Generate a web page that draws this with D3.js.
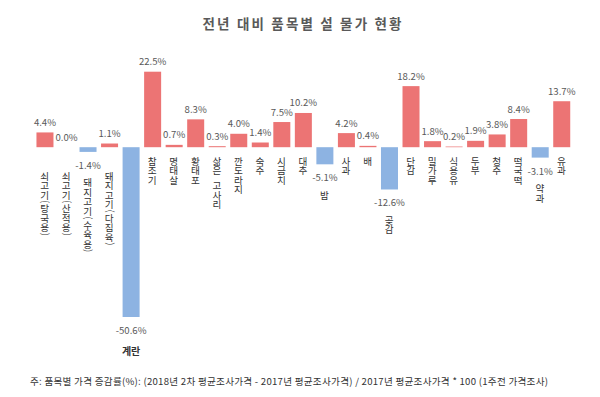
<!DOCTYPE html>
<html><head><meta charset="utf-8">
<script src="https://cdn.jsdelivr.net/npm/d3@7"></script>
<style>
html,body{margin:0;padding:0;background:#fff;}
svg{display:block;font-family:"Noto Sans CJK KR","Noto Sans",sans-serif;}
</style></head>
<body>
<svg id="chart" width="600" height="397"></svg>
<script>
const title = "전년 대비 품목별 설 물가 현황";
const footnote = "주: 품목별 가격 증감률(%): (2018년 2차 평균조사가격 - 2017년 평균조사가격) / 2017년 평균조사가격 * 100 (1주전 가격조사)";
const categories = ["쇠고기(탕국용)","쇠고기(산적용)","돼지고기(수육용)","돼지고기(다짐육)","계란","참조기","명태살","황태포","삶은 고사리","깐도라지","숙주","시금치","대추","밤","사과","배","곶감","단감","밀가루","식용유","두부","청주","떡국떡","약과","유과"];
const values = [4.4,0.0,-1.4,1.1,-50.6,22.5,0.7,8.3,0.3,4.0,1.4,7.5,10.2,-5.1,4.2,0.4,-12.6,18.2,1.8,0.2,1.9,3.8,8.4,-3.1,13.7];
const horizontalLabels = ["계란"];

const svg = d3.select("#chart");
const data = categories.map((c,i)=>({c, v: values[i]}));

const x = d3.scaleBand().domain(categories).range([34.2, 572.5]).paddingInner(0.21).paddingOuter(0.105);
const y = d3.scaleLinear().domain([-50.6, 22.5]).range([317, 71.7]);
const y0 = y(0);

const posColor = "#EC7474", negColor = "#8DB3E2";

svg.append("text").attr("x", 302).attr("y", 28.5).attr("text-anchor","middle")
  .attr("font-size", 13.5).attr("font-weight","bold").attr("fill","#595959")
  .attr("textLength", 199).attr("lengthAdjust","spacing").text(title);

svg.append("g").selectAll("rect").data(data).join("rect")
  .attr("x", d=>x(d.c)).attr("width", x.bandwidth())
  .attr("y", d=>Math.min(y(d.v), y0)).attr("height", d=>Math.abs(y(d.v)-y0))
  .attr("fill", d=>d.v>=0?posColor:negColor);

// value labels
svg.append("g").selectAll("text").data(data).join("text")
  .attr("x", d=>x(d.c)+x.bandwidth()/2)
  .attr("y", d=> d.v>=0 ? y(d.v)-6.5 : y(d.v)+17)
  .attr("text-anchor","middle").attr("font-size", 9.6).attr("fill","#595959")
  .text(d=>d.v.toFixed(1)+"%");

// category labels: one text per label, characters stacked, parentheses turned
const cg = svg.append("g").attr("fill","#333");
const fs = 9.6, step = 9.5;
data.forEach(d=>{
  const cx = x(d.c)+x.bandwidth()/2;
  if (horizontalLabels.includes(d.c)) {
    cg.append("text").attr("x", cx).attr("y", y(d.v)+38).attr("text-anchor","middle")
      .attr("font-size", 10).attr("font-weight","bold").text(d.c);
    return;
  }
  let top;
  if (d.v >= 0) top = y0 + (d.c.includes("(") ? 24 : 9);
  else top = y(d.v) + 26;
  const t = cg.append("text").attr("font-size", fs).attr("text-anchor","start");
  let pos = top;
  for (const ch of d.c) {
    if (ch === " ") { pos += step*0.6; continue; }
    if (ch === "(" || ch === ")") {
      const h = step*0.45;
      t.append("tspan").attr("x", cx - 0.3*fs).attr("y", pos + 0.3).attr("rotate", 90).text(ch);
      pos += h;
    } else {
      t.append("tspan").attr("x", cx - 0.5*fs).attr("y", pos + step/2 + 0.38*fs).text(ch);
      pos += step;
    }
  }
});

svg.append("text").attr("x", 30).attr("y", 385).attr("font-size", 9.6).attr("fill","#333")
  .attr("textLength", 518).attr("lengthAdjust","spacing").text(footnote);
</script>
</body></html>
